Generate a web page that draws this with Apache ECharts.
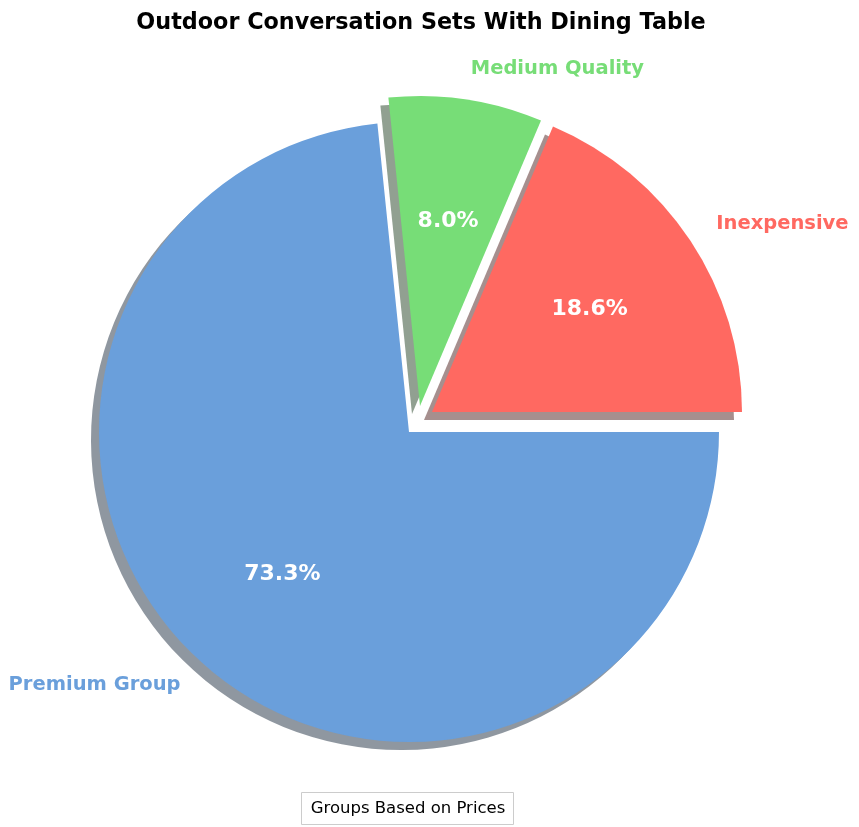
<!DOCTYPE html>
<html><head><meta charset="utf-8">
<script src="https://cdn.jsdelivr.net/npm/echarts@6/dist/echarts.min.js"></script>
<style>html,body{margin:0;padding:0;background:#fff}#c{width:859px;height:827px}</style>
</head><body><div id="c"></div>
<script>
const categories = ['Inexpensive', 'Medium Quality', 'Premium Group'];
const values = [18.6, 8.0, 73.3];
const colors = ['#ff6961', '#77dd77', '#6a9fdb'];
const shadowColors = ['rgba(77,32,29,0.5)', 'rgba(36,66,36,0.5)', 'rgba(32,48,66,0.5)'];
// explode displacement of each slice (pixels)
const shiftX = [23, 11, 0];
const shiftY = [-20, -26, 0];

const chart = echarts.init(document.getElementById('c'), null, {renderer: 'canvas'});
const R = 310, CX = 409, CY = 432;
const font = 'DejaVu Sans';

const series = [];
// wedges + outer labels, one series per slice (each with its own exploded centre)
categories.forEach((cat, k) => {
  series.push({
    type: 'pie', center: [CX + shiftX[k], CY + shiftY[k]], radius: [0, R],
    startAngle: 0, clockwise: false, avoidLabelOverlap: false, silent: true,
    emphasis: {disabled: true}, z: 2,
    labelLine: {show: false, length: R * 0.1, length2: 0},
    data: categories.map((n, i) => i === k ? {
      name: n, value: values[i],
      itemStyle: {color: colors[i], shadowColor: shadowColors[i], shadowBlur: 0, shadowOffsetX: -8, shadowOffsetY: 8},
      label: {show: true, position: 'outside', distanceToLabelLine: 0, formatter: '{b}', color: colors[i], fontFamily: font, fontWeight: 'bold', fontSize: 19.5}
    } : {
      name: n, value: values[i], itemStyle: {color: 'rgba(0,0,0,0)'}, label: {show: false}
    })
  });
});
// percentage labels at 0.6 R
categories.forEach((cat, k) => {
  series.push({
    type: 'pie', center: [CX + shiftX[k], CY + shiftY[k] + 2], radius: [0, R * 1.2],
    startAngle: 0, clockwise: false, avoidLabelOverlap: false, silent: true,
    emphasis: {disabled: true}, z: 3,
    labelLine: {show: false},
    data: categories.map((n, i) => ({
      name: n, value: values[i], itemStyle: {color: 'rgba(0,0,0,0)'},
      label: i === k ? {show: true, position: 'inside', formatter: p => p.value.toFixed(1) + '%', color: '#fff', fontFamily: font, fontWeight: 'bold', fontSize: 22} : {show: false}
    }))
  });
});

chart.setOption({
  animation: false,
  title: {
    text: 'Outdoor Conversation Sets With Dining Table',
    left: 416, top: 7, textAlign: 'center',
    textStyle: {fontFamily: font, fontWeight: 'bold', fontSize: 22.3, color: '#000'}
  },
  series: series,
  graphic: [
    {type: 'rect', shape: {x: 301.5, y: 792.5, width: 212, height: 32}, style: {fill: '#fff', stroke: '#cccccc', lineWidth: 1}},
    {type: 'text', x: 408, y: 808.5, style: {text: 'Groups Based on Prices', font: '16.5px "DejaVu Sans"', fill: '#000', textAlign: 'center', textVerticalAlign: 'middle'}}
  ]
});
</script></body></html>
